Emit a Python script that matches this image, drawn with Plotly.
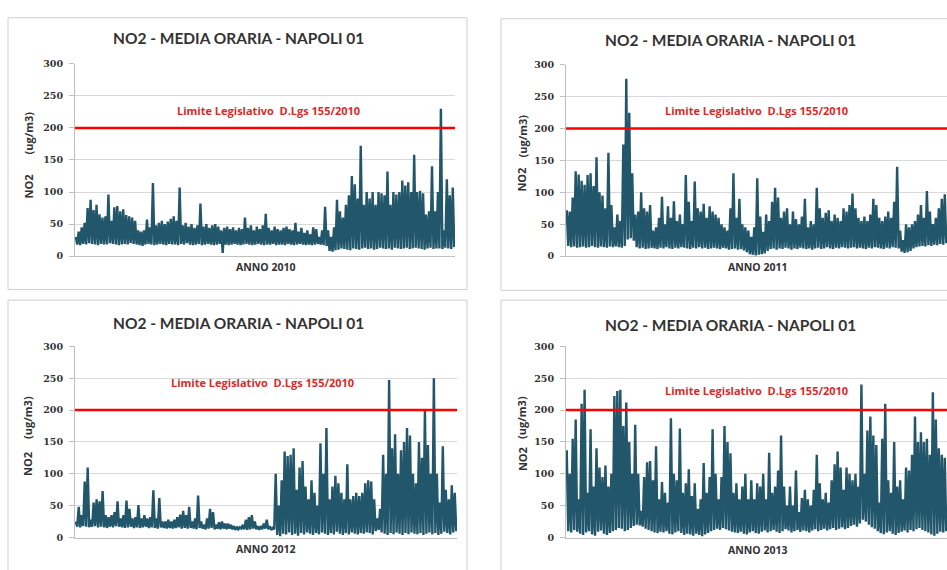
import plotly.graph_objects as go

# Canvas size in pixels
W, H = 947, 570

TITLE = "NO2 - MEDIA ORARIA - NAPOLI 01"
LIMIT_LABEL = "Limite Legislativo&nbsp;&nbsp;D.Lgs 155/2010"
LIMIT_VALUE = 200
y_ticks = [0, 50, 100, 150, 200, 250, 300]
year_labels = ["ANNO 2010", "ANNO 2011", "ANNO 2012", "ANNO 2013"]

# Hourly NO2 concentrations (ug/m3), summarised per time slot as the
# highest and lowest hourly value recorded in that slot.
peaks_2010 = [
    30, 38, 45, 52, 75, 88, 72, 80,
    65, 60, 62, 96, 55, 76, 78, 70,
    73, 64, 62, 60, 55, 40, 38, 40,
    57, 45, 114, 48, 52, 55, 50, 54,
    58, 62, 55, 107, 48, 52, 46, 50,
    44, 48, 82, 46, 50, 44, 48, 50,
    46, 40, 44, 46, 42, 45, 40, 44,
    42, 60, 44, 48, 40, 46, 42, 48,
    66, 44, 40, 46, 42, 40, 44, 46,
    42, 40, 52, 38, 44, 36, 40, 34,
    45, 42, 30, 40, 77, 40, 30, 45,
    88, 70, 60, 80, 95, 125, 112, 90,
    172, 80, 100, 90, 100, 80, 100, 98,
    95, 132, 80, 100, 96, 100, 118, 110,
    115, 100, 158, 100, 102, 98, 65, 70,
    140, 70, 100, 230, 40, 120, 95, 107,
]
troughs_2010 = [
    18, 17, 19, 18, 20, 19, 18, 17, 19, 18, 18, 20, 19, 18, 17, 18,
    19, 18, 20, 19, 18, 17, 16, 18, 19, 18, 17, 18, 19, 18, 17, 19,
    18, 18, 17, 19, 18, 20, 18, 17, 18, 19, 17, 18, 19, 18, 17, 18,
    19, 5, 18, 17, 18, 19, 18, 17, 18, 19, 18, 17, 18, 19, 18, 17,
    18, 18, 19, 17, 18, 18, 17, 19, 18, 17, 18, 19, 18, 17, 18, 17,
    18, 19, 18, 17, 16, 8, 7, 9, 10, 12, 11, 10, 9, 12, 11, 10,
    12, 13, 11, 12, 10, 11, 13, 12, 11, 12, 10, 13, 12, 11, 12, 13,
    11, 12, 13, 12, 11, 10, 12, 13, 11, 12, 12, 11, 13, 12, 11, 14,
]

peaks_2011 = [
    72, 70, 92, 133, 128, 118, 112, 127,
    130, 110, 155, 100, 95, 75, 162, 80,
    45, 65, 55, 175, 278, 225, 130, 65,
    70, 100, 75, 70, 80, 40, 45, 60,
    93, 50, 78, 60, 86, 55, 65, 50,
    127, 85, 55, 117, 75, 70, 82, 60,
    78, 70, 65, 60, 50, 45, 40, 75,
    130, 60, 90, 50, 45, 40, 30, 45,
    122, 62, 38, 65, 55, 85, 107, 92,
    60, 70, 75, 50, 70, 58, 50, 62,
    90, 45, 55, 50, 107, 75, 60, 68,
    72, 55, 65, 60, 55, 75, 70, 80,
    98, 75, 60, 55, 62, 55, 65, 90,
    80, 60, 55, 62, 70, 60, 85, 140,
    40, 25, 50, 45, 50, 55, 65, 80,
    60, 102, 70, 50, 60, 75, 90, 97,
]
troughs_2011 = [
    16, 14, 15, 13, 14, 15, 13, 14, 16, 14, 13, 15, 14, 13, 15, 14,
    15, 14, 13, 16, 26, 28, 24, 14, 12, 13, 11, 12, 13, 12, 11, 13,
    12, 14, 12, 11, 13, 12, 14, 13, 12, 11, 13, 12, 14, 12, 13, 11,
    12, 13, 12, 11, 13, 12, 10, 11, 12, 10, 11, 9, 6, 3, 2, 1,
    2, 3, 4, 8, 11, 12, 10, 12, 11, 13, 12, 10, 12, 11, 13, 12,
    11, 12, 10, 12, 13, 11, 12, 14, 12, 11, 13, 12, 14, 13, 12, 13,
    14, 12, 13, 12, 11, 13, 12, 14, 13, 12, 11, 13, 12, 14, 13, 12,
    7, 5, 6, 8, 12, 14, 15, 16, 15, 17, 16, 18, 17, 19, 18, 20,
]

peaks_2012 = [
    25, 48, 35, 88, 110, 28, 55, 60,
    57, 73, 35, 32, 35, 40, 57, 30,
    35, 58, 45, 30, 32, 51, 30, 35,
    30, 32, 74, 30, 62, 25, 25, 28,
    25, 28, 32, 36, 42, 35, 48, 25,
    30, 66, 25, 20, 30, 45, 40, 20,
    24, 25, 22, 22, 20, 18, 17, 16,
    20, 28, 32, 35, 25, 18, 18, 22,
    28, 18, 15, 100, 50, 90, 135, 128,
    130, 140, 75, 110, 120, 80, 60, 90,
    70, 50, 148, 100, 172, 60, 80, 97,
    85, 70, 60, 115, 60, 65, 70, 65,
    70, 85, 90, 88, 60, 30, 45, 130,
    100, 247, 140, 162, 100, 137, 150, 172,
    160, 100, 85, 150, 125, 200, 145, 100,
    250, 100, 55, 143, 75, 60, 82, 70,
]
troughs_2012 = [
    17, 16, 18, 17, 16, 17, 18, 16, 17, 16, 15, 17, 16, 18, 17, 16,
    15, 16, 17, 15, 16, 15, 16, 17, 15, 16, 15, 14, 16, 15, 14, 15,
    14, 15, 16, 14, 15, 14, 15, 14, 13, 15, 14, 13, 14, 15, 13, 14,
    13, 14, 13, 14, 13, 12, 13, 14, 13, 12, 13, 14, 13, 12, 13, 14,
    13, 12, 13, 4, 2, 6, 5, 8, 4, 6, 3, 7, 5, 8, 6, 4,
    7, 5, 8, 6, 4, 7, 5, 9, 6, 4, 7, 5, 8, 6, 5, 7,
    6, 8, 7, 5, 10, 12, 8, 6, 4, 7, 5, 8, 6, 4, 7, 5,
    8, 6, 5, 7, 4, 6, 8, 5, 7, 4, 6, 9, 7, 5, 8, 10,
]

peaks_2013 = [
    137, 100, 155, 185, 60, 210, 232, 70,
    170, 80, 140, 110, 95, 113, 80, 100,
    222, 230, 232, 175, 212, 150, 100, 177,
    100, 42, 95, 118, 120, 90, 143, 60,
    87, 70, 55, 187, 100, 90, 171, 70,
    85, 107, 65, 85, 45, 60, 117, 70,
    95, 170, 100, 60, 95, 175, 150, 132,
    70, 85, 60, 80, 100, 60, 90, 60,
    85, 80, 100, 60, 133, 70, 80, 105,
    160, 80, 50, 80, 50, 105, 40, 62,
    75, 60, 50, 75, 130, 85, 60, 70,
    55, 90, 115, 135, 110, 75, 110, 100,
    90, 100, 80, 240, 100, 168, 190, 160,
    145, 55, 155, 210, 90, 70, 150, 80,
    90, 60, 110, 105, 130, 190, 150, 165,
    150, 155, 130, 228, 185, 140, 130, 125,
]
troughs_2013 = [
    10, 8, 12, 9, 6, 4, 8, 10, 5, 3, 9, 11, 6, 4, 7, 10,
    12, 15, 14, 10, 12, 15, 18, 20, 19, 17, 14, 12, 10, 8, 7, 9,
    8, 10, 6, 5, 8, 10, 7, 4, 6, 5, 3, 6, 4, 2, 5, 7,
    10, 12, 14, 12, 15, 13, 11, 9, 8, 7, 9, 6, 5, 8, 10, 7,
    6, 9, 11, 8, 10, 12, 9, 7, 10, 13, 11, 8, 10, 12, 9, 11,
    10, 8, 11, 13, 10, 12, 14, 11, 13, 15, 12, 14, 16, 13, 15, 18,
    20, 17, 22, 28, 25, 20, 16, 14, 10, 7, 5, 8, 10, 6, 4, 7,
    9, 11, 8, 12, 10, 13, 15, 12, 10, 8, 5, 3, 6, 9, 8, 10,
]

SERIES_COLOR = "#22566a"
LIMIT_COLOR = "#ff0000"
GRID_COLOR = "#d9d9d9"
BOX_COLOR = "#cfcfcf"
TEXT_COLOR = "#333333"


def fx(px):
    return px / W


def fy(px):
    return 1 - px / H


# Per-panel placement in canvas pixels
panels = [
    dict(peaks=peaks_2010, troughs=troughs_2010, year=year_labels[0],
         box=(8, 12, 467, 289), plot=(75, 455, 59, 255),
         title=(238, 33), xlab=(265, 266), no2=(28, 184), unit=(28, 130),
         limit=(0.51, 227)),
    dict(peaks=peaks_2011, troughs=troughs_2011, year=year_labels[1],
         box=(501, 13, 960, 290), plot=(566, 947, 60, 255),
         title=(730, 35), xlab=(757, 266), no2=(522, 177), unit=(522, 133),
         limit=(0.50, 229)),
    dict(peaks=peaks_2012, troughs=troughs_2012, year=year_labels[2],
         box=(8, 300, 467, 578), plot=(75, 457, 347, 542),
         title=(238, 323), xlab=(265, 554), no2=(28, 467), unit=(28, 420),
         limit=(0.49, 243)),
    dict(peaks=peaks_2013, troughs=troughs_2013, year=year_labels[3],
         box=(501, 300, 960, 578), plot=(566, 947, 347, 542),
         title=(730, 325), xlab=(757, 555), no2=(522, 462), unit=(522, 420),
         limit=(0.50, 230)),
]

fig = go.Figure()
shapes = []
annotations = []
layout_axes = {}

for k, p in enumerate(panels, start=1):
    sfx = "" if k == 1 else str(k)
    # Alternate slot maximum and minimum so the hourly swing is drawn
    xs, ys = [], []
    for i, (hi, lo) in enumerate(zip(p["peaks"], p["troughs"])):
        xs += [i + 0.25, i + 0.75]
        ys += [hi, lo]
    fig.add_trace(go.Scatter(
        x=xs, y=ys, mode="lines",
        line=dict(color=SERIES_COLOR, width=2.4),
        xaxis="x" + sfx, yaxis="y" + sfx, showlegend=False,
        hoverinfo="skip",
    ))

    x0, x1, ytop, ybot = p["plot"]
    n = len(p["peaks"])
    layout_axes["xaxis" + sfx] = dict(
        domain=[fx(x0), min(fx(x1), 1.0)], range=[0, n],
        showgrid=False, zeroline=False, showticklabels=False,
        showline=True, linecolor="#bfbfbf", linewidth=1,
        anchor="y" + sfx, fixedrange=True,
    )
    layout_axes["yaxis" + sfx] = dict(
        domain=[fy(ybot), fy(ytop)], range=[0, 300], tickvals=y_ticks,
        showgrid=True, gridcolor=GRID_COLOR, gridwidth=1,
        zeroline=False, showline=True, linecolor="#bfbfbf", linewidth=1,
        ticks="outside", ticklen=5, tickcolor="#bfbfbf",
        ticklabelstandoff=4,
        tickfont=dict(family="DejaVu Serif", size=9.5, color=TEXT_COLOR,
                      weight="bold"),
        anchor="x" + sfx, fixedrange=True,
    )

    # Legal hourly limit line
    shapes.append(dict(
        type="line", xref="x" + sfx + " domain", yref="y" + sfx,
        x0=0, x1=1, y0=LIMIT_VALUE, y1=LIMIT_VALUE,
        line=dict(color=LIMIT_COLOR, width=2.5), layer="above",
    ))
    # Chart frame
    bx0, by0, bx1, by1 = p["box"]
    shapes.append(dict(
        type="rect", xref="paper", yref="paper",
        x0=fx(bx0), x1=fx(bx1), y0=fy(by1), y1=fy(by0),
        line=dict(color=BOX_COLOR, width=1), fillcolor="rgba(0,0,0,0)",
        layer="below",
    ))

    lx, lv = p["limit"]
    annotations += [
        dict(text=LIMIT_LABEL, xref="x" + sfx + " domain", yref="y" + sfx,
             x=lx, y=lv, showarrow=False, xanchor="center", yanchor="middle",
             font=dict(family="Open Sans", size=11, color="#d92a2a",
                       weight="bold")),
        dict(text=TITLE, xref="paper", yref="paper",
             x=fx(p["title"][0]), y=fy(p["title"][1]), showarrow=False,
             xanchor="center", yanchor="middle",
             font=dict(family="Lato", size=15.5, color=TEXT_COLOR,
                       weight="bold")),
        dict(text=p["year"], xref="paper", yref="paper",
             x=fx(p["xlab"][0]), y=fy(p["xlab"][1]), showarrow=False,
             xanchor="center", yanchor="middle",
             font=dict(family="Open Sans", size=10.5, color=TEXT_COLOR,
                       weight="bold")),
        dict(text="NO2", xref="paper", yref="paper",
             x=fx(p["no2"][0]), y=fy(p["no2"][1]), showarrow=False,
             textangle=-90, xanchor="center", yanchor="middle",
             font=dict(family="Open Sans", size=11, color=TEXT_COLOR,
                       weight="bold")),
        dict(text="(ug/m3)", xref="paper", yref="paper",
             x=fx(p["unit"][0]), y=fy(p["unit"][1]), showarrow=False,
             textangle=-90, xanchor="center", yanchor="middle",
             font=dict(family="Open Sans", size=11, color=TEXT_COLOR,
                       weight="bold")),
    ]

fig.update_layout(
    width=W, height=H,
    margin=dict(l=0, r=0, t=0, b=0),
    paper_bgcolor="white", plot_bgcolor="white",
    shapes=shapes, annotations=annotations,
    **layout_axes,
)

fig.write_html("out.html")
